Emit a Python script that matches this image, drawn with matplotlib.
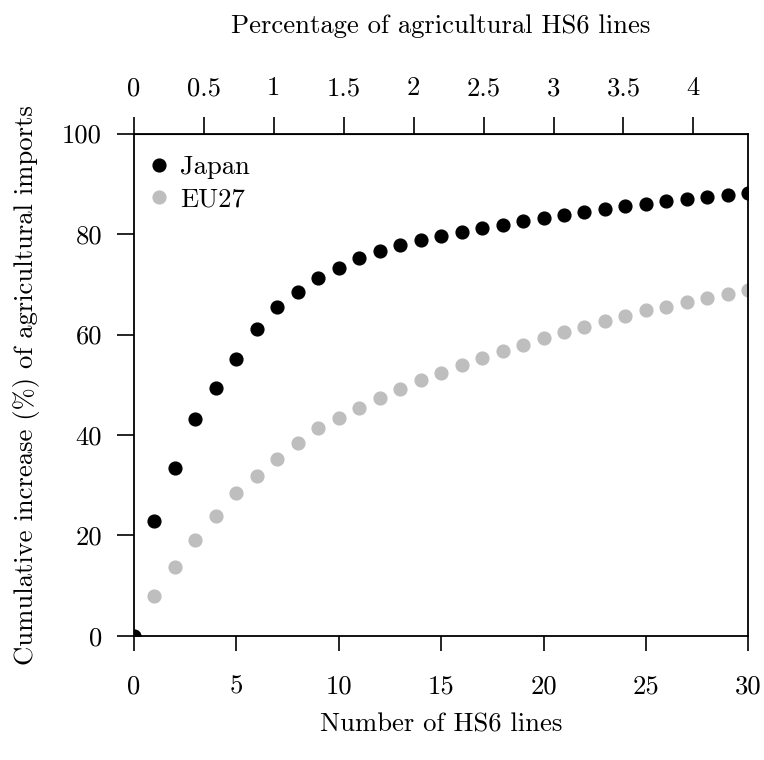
import numpy as np
import matplotlib
matplotlib.use("Agg")
import matplotlib.pyplot as plt

plt.rcParams['font.family'] = 'serif'
plt.rcParams['font.serif'] = ['cmr10']
plt.rcParams['mathtext.fontset'] = 'cm'
plt.rcParams['axes.formatter.use_mathtext'] = True

# number of HS6 lines
n_lines = list(range(0, 31))
total_agri_lines = 683

japan = [0, 22.8, 33.5, 43.1, 49.3, 55.2, 61.0, 65.5, 68.4, 71.2, 73.3,
         75.2, 76.6, 77.8, 78.8, 79.6, 80.4, 81.2, 81.7, 82.6, 83.2,
         83.8, 84.4, 85.0, 85.5, 86.0, 86.6, 86.9, 87.3, 87.8, 88.2]
eu27 = [0, 7.9, 13.8, 19.2, 23.8, 28.4, 31.8, 35.2, 38.4, 41.3, 43.4,
        45.3, 47.3, 49.1, 50.9, 52.3, 53.9, 55.3, 56.7, 58.0, 59.3,
        60.5, 61.5, 62.7, 63.7, 64.8, 65.5, 66.5, 67.3, 68.1, 68.9]

x_ticks = [0, 5, 10, 15, 20, 25, 30]
y_ticks = [0, 20, 40, 60, 80, 100]
pct_ticks = [0, 0.5, 1, 1.5, 2, 2.5, 3, 3.5, 4]
pct_labels = ['0', '0.5', '1', '1.5', '2', '2.5', '3', '3.5', '4']

fs = 19.2

fig = plt.figure(figsize=(7.64, 7.60), dpi=100)
ax = fig.add_axes([0.1754, 0.1632, 0.804, 0.6611])

ax.plot(n_lines, eu27, 'o', color='#bebebe', markersize=9.2, label='EU27', zorder=2)
ax.plot(n_lines, japan, 'o', color='black', markersize=9.2, label='Japan', zorder=3)

ax.set_xlim(0, 30)
ax.set_ylim(0, 100)
ax.set_xticks(x_ticks)
ax.set_xticklabels([str(v) for v in x_ticks])
ax.set_yticks(y_ticks)
ax.set_yticklabels([str(v) for v in y_ticks])
ax.tick_params(axis='x', direction='out', length=11, width=1.2, pad=17, labelsize=fs)
ax.tick_params(axis='y', direction='out', length=12, width=1.2, pad=11, labelsize=fs)
for s in ax.spines.values():
    s.set_linewidth(1.3)

ax.set_xlabel('Number of HS6 lines', fontsize=fs, labelpad=10)
ax.set_ylabel('Cumulative increase (%) of agricultural imports', fontsize=fs, labelpad=16)

top = ax.secondary_xaxis('top', functions=(lambda v: v / total_agri_lines * 100,
                                            lambda p: p * total_agri_lines / 100))
top.set_xticks(pct_ticks)
top.set_xticklabels(pct_labels)
top.tick_params(direction='out', length=12, width=1.2, pad=12, labelsize=fs)
top.set_xlabel('Percentage of agricultural HS6 lines', fontsize=fs, labelpad=31)

handles, labels = ax.get_legend_handles_labels()
ax.legend(handles[::-1], labels[::-1], loc='upper left', bbox_to_anchor=(-0.003, 0.994),
          frameon=False, fontsize=fs, handletextpad=0.5, handlelength=0.6,
          borderaxespad=0.3, labelspacing=0.33)

fig.savefig('out.png', dpi=100)
